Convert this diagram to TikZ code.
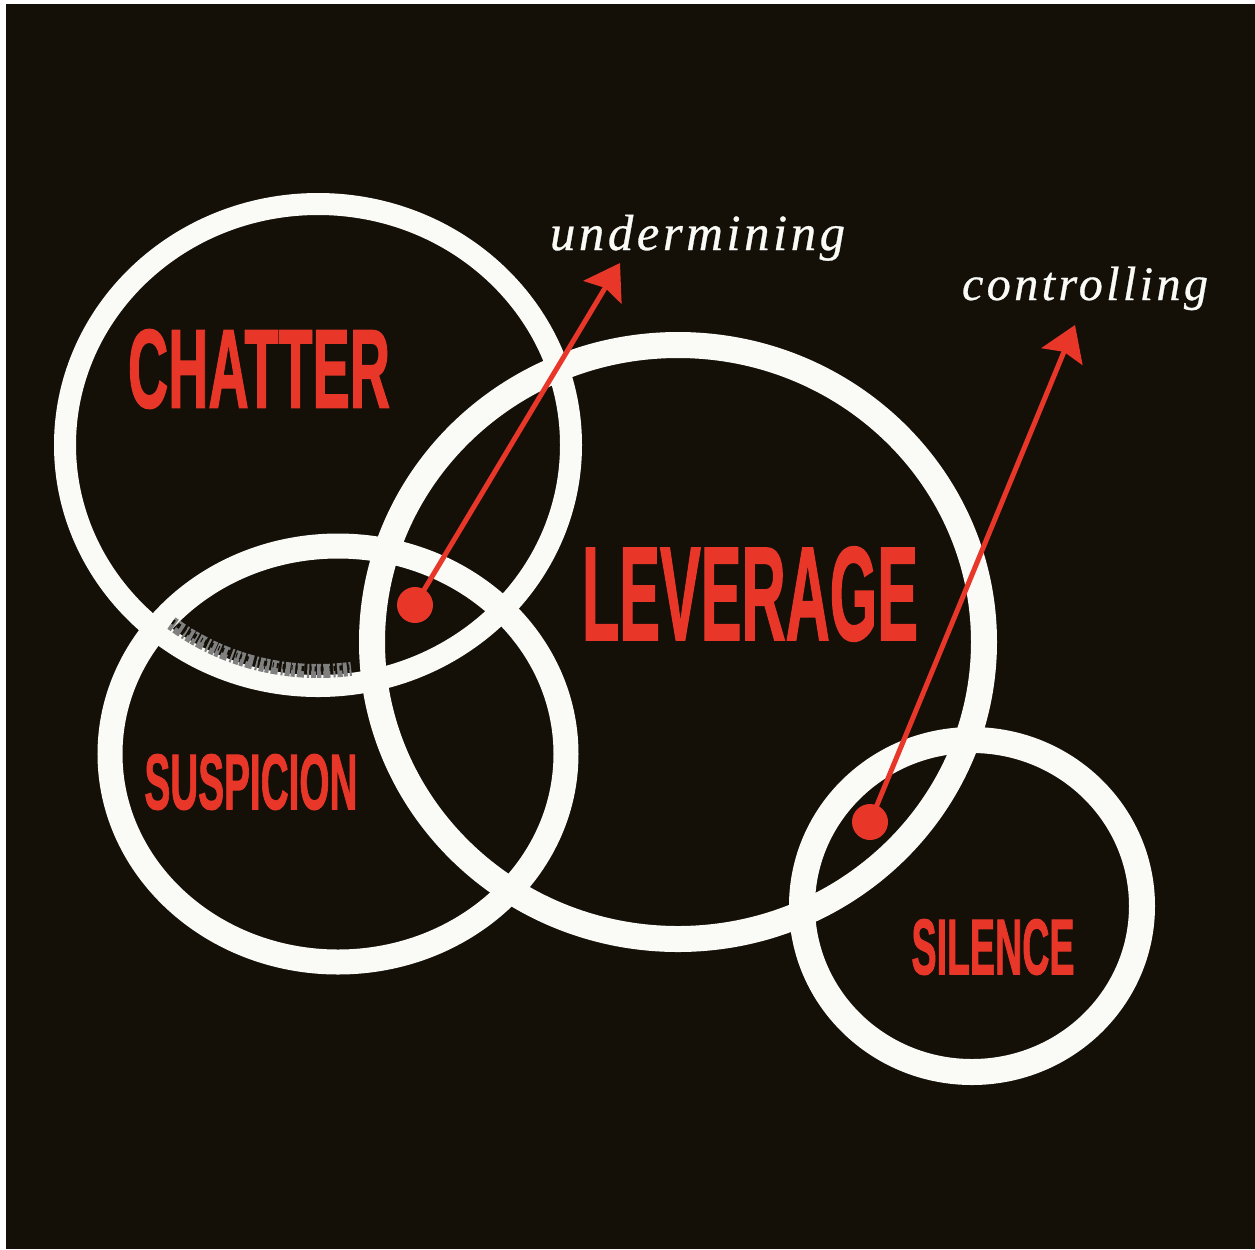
\documentclass[tikz,border=0pt]{standalone}
\usepackage{fontspec}
\usepackage{graphicx}
\usetikzlibrary{arrows.meta}
\setmainfont{Liberation Serif}
\newfontfamily\capsfont{Liberation Sans Bold}[FakeBold=1.6]
\newfontfamily\itfont{Liberation Serif Italic}[LetterSpace=7, FakeBold=0.6]
\newlength\px \setlength\px{0.02cm}
\definecolor{bg}{RGB}{20,16,8}
\definecolor{brush}{RGB}{250,250,246}
\definecolor{redc}{RGB}{232,54,40}
\tikzset{
  ring/.style={draw=brush, line width=#1*0.02cm},
  ring/.default=22,
  label/.style={inner sep=0pt, outer sep=0pt, text=redc, font=\capsfont},
  word/.style={inner sep=0pt, outer sep=0pt, text=brush, anchor=base west},
  dot/.style={circle, fill=redc, inner sep=0pt, minimum size=36*0.02cm},
  pointer/.style={draw=redc, line width=5*0.02cm, -{Stealth[length=34*0.02cm, width=44*0.02cm, inset=5*0.02cm]}},
}
\begin{document}
\begin{tikzpicture}[x=0.02cm, y=-0.02cm]
\useasboundingbox (0,0) rectangle (1255,1249);
\fill[white] (0,0) rectangle (1255,1249);
\fill[bg] (6,4) rectangle (1255,1249);

% rings
\draw[ring=22] (318,445) ellipse [x radius=253, y radius=241];
\draw[ring=26] (678,642) ellipse [x radius=306, y radius=297];
\draw[ring=25] (338,754) ellipse [x radius=228, y radius=208];
\draw[ring=26] (972,906) ellipse [x radius=170, y radius=166];
% dry brush texture on the chatter ring
\draw[shift={(318,445)}, line width=14*0.02cm, color=black!50,
      dash pattern=on 4*0.02cm off 2*0.02cm on 7*0.02cm off 3*0.02cm on 2*0.02cm off 2*0.02cm on 5*0.02cm off 1*0.02cm]
  (128:238 and 226) arc[start angle=128, end angle=82, x radius=238, y radius=226];
\draw[shift={(318,445)}, line width=5*0.02cm, color=bg,
      dash pattern=on 2*0.02cm off 4*0.02cm on 3*0.02cm off 6*0.02cm on 1*0.02cm off 3*0.02cm]
  (128:236 and 224) arc[start angle=128, end angle=82, x radius=236, y radius=224];

% labels
\node[label] (chatter) at (259,369) {\resizebox{262\px}{78\px}{CHATTER}};
\node[label] (leverage) at (750,594) {\resizebox{336\px}{93\px}{LEVERAGE}};
\node[label] (suspicion) at (251,782) {\resizebox{213\px}{55\px}{SUSPICION}};
\node[label] (silence) at (993,947) {\resizebox{163\px}{55\px}{SILENCE}};

\node[word] (under) at (550,250) {\resizebox{295\px}{!}{\itfont undermining}};
\node[word] (control) at (962,300) {\resizebox{246\px}{!}{\itfont controlling}};

% pointers
\node[dot] (d1) at (415,605) {};
\node[dot] (d2) at (870,822) {};
\coordinate (t1) at (620,263);
\coordinate (t2) at (1075,325);
\draw[pointer] (d1.center) -- (t1);
\draw[pointer] (d2.center) -- (t2);
\end{tikzpicture}
\end{document}
